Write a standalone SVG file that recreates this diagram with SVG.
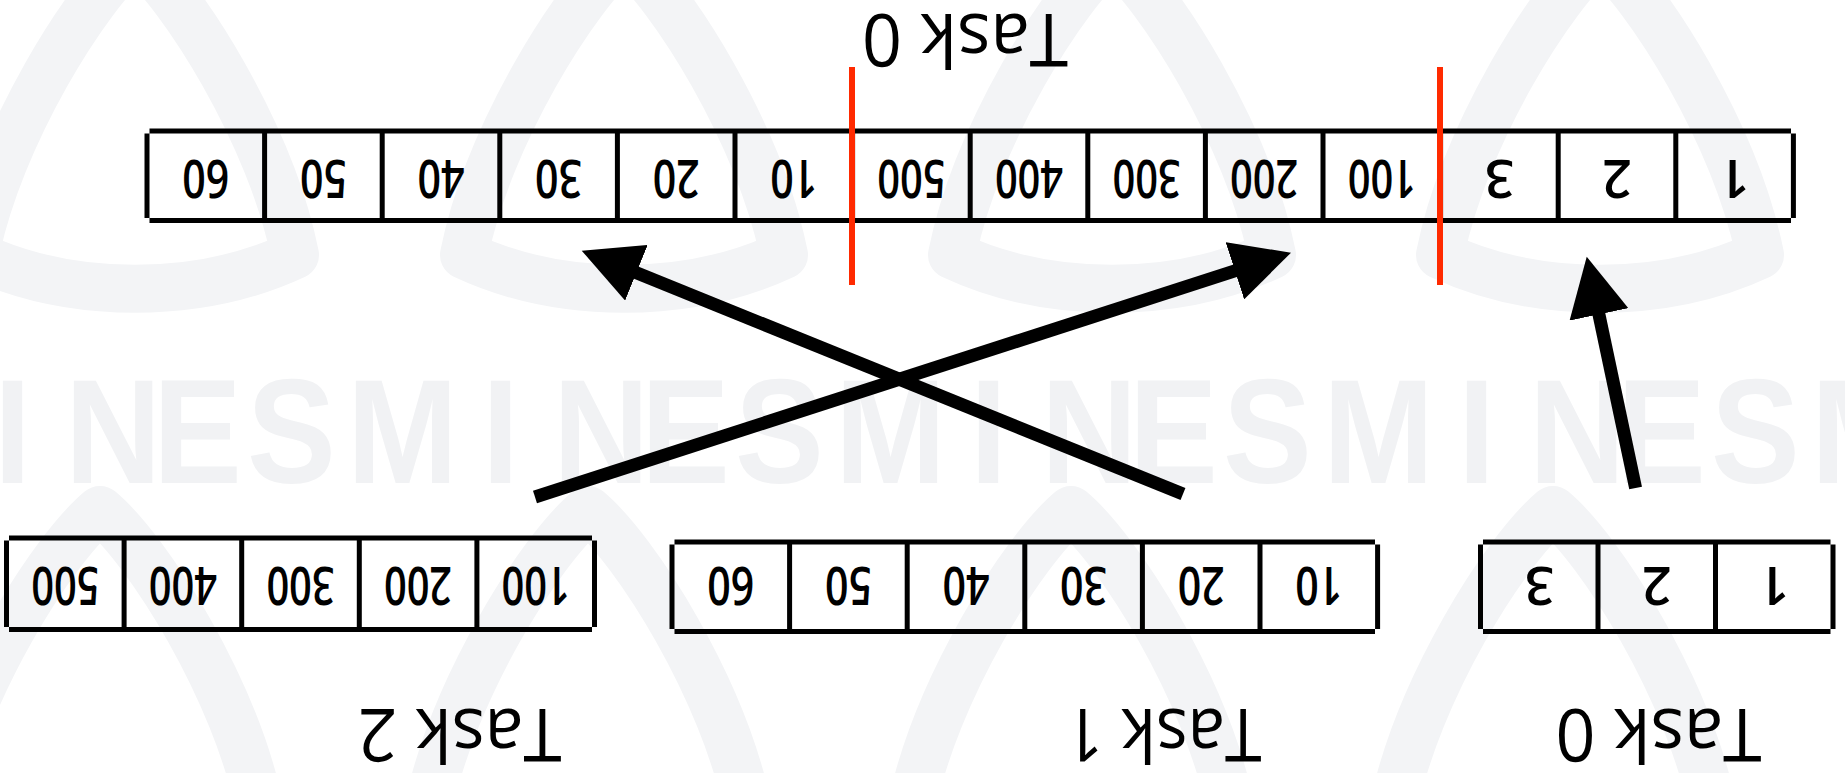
<svg xmlns="http://www.w3.org/2000/svg" width="1845" height="773" viewBox="0 0 1845 773">
  <style>
    .grid { stroke: #000; stroke-width: 5; fill: none; }
    .num { font-family: "Open Sans", "Liberation Sans", sans-serif; font-size: 52px; font-weight: 600; fill: #000; text-anchor: middle; }
    .label { font-family: "Open Sans", "Liberation Sans", sans-serif; font-size: 74px; fill: #000; text-anchor: middle; }
    .split { stroke: #ff2a00; stroke-width: 6; }
    .arrow { stroke: #000; stroke-width: 13; fill: none; marker-end: url(#head); }
    .mark { font-family: "Liberation Sans", sans-serif; font-weight: bold; font-size: 148px; fill: #f1f2f4; }
    .ring { fill: none; stroke: #f3f4f6; stroke-width: 48; stroke-linejoin: round; }
  </style>
  <defs>
    <marker id="head" markerUnits="userSpaceOnUse" markerWidth="60" markerHeight="60" viewBox="0 0 60 60" refX="4" refY="30" orient="auto">
      <path d="M0,0 L59,30 L0,60 z" fill="#000"/>
    </marker>
    <!-- rounded triangle of the backdrop, apex at the origin -->
    <path id="logo" class="ring" d="M0,0 C48,40 136,180 160,300 C64,345 -64,345 -160,300 C-136,180 -48,40 0,0 Z"/>
  </defs>

  <rect width="1845" height="773" fill="#fff"/>

  <!-- backdrop: repeated logo rings and word band -->
  <g id="backdrop">
    <use href="#logo" x="135" y="-45"/>
    <use href="#logo" x="624" y="-45"/>
    <use href="#logo" x="1112" y="-45"/>
    <use href="#logo" x="1600" y="-45"/>
    <use href="#logo" x="100" y="510"/>
    <use href="#logo" x="588" y="510"/>
    <use href="#logo" x="1071" y="510"/>
    <use href="#logo" x="1553" y="510"/>
    <text class="mark" transform="scale(0.9 1)" y="483"
      x="-6.7 72.2 170 274.4 385.6 535.6 614.4 712.2 816.7 927.8 1077.8 1156.7 1254.4 1358.9 1470 1620 1698.9 1796.7 1901.1 2012.2">INESMINESMINESMINESM</text>
  </g>

  <!-- whole drawing is laid out upright, then turned half a revolution -->
  <g id="diagram" transform="rotate(180 922.5 386.5)">

    <!-- task 0 : 1 2 3 -->
    <g id="task0">
      <path class="grid" d="M14.5,141.5 H362 M14.5,231 H362 M12,144 V228.5 M129.5,144 V228.5 M247,144 V228.5 M364.5,144 V228.5"/>
      <text class="num" x="70.75" y="206">1</text>
      <text class="num" x="188.25" y="206">2</text>
      <text class="num" x="305.75" y="206">3</text>
      <text class="label" x="186.5" y="64" textLength="206" lengthAdjust="spacingAndGlyphs">Task 0</text>
    </g>

    <!-- task 1 : 10 .. 60 -->
    <g id="task1">
      <path class="grid" d="M470,141.5 H1170.5 M470,231 H1170.5 M467.4,144 V228.5 M585,144 V228.5 M702.6,144 V228.5 M820.2,144 V228.5 M937.8,144 V228.5 M1055.4,144 V228.5 M1173,144 V228.5"/>
      <text class="num" x="526.2" y="206" textLength="47" lengthAdjust="spacingAndGlyphs">10</text>
      <text class="num" x="643.8" y="206" textLength="47" lengthAdjust="spacingAndGlyphs">20</text>
      <text class="num" x="761.4" y="206" textLength="47" lengthAdjust="spacingAndGlyphs">30</text>
      <text class="num" x="879" y="206" textLength="47" lengthAdjust="spacingAndGlyphs">40</text>
      <text class="num" x="996.6" y="206" textLength="47" lengthAdjust="spacingAndGlyphs">50</text>
      <text class="num" x="1114.2" y="206" textLength="47" lengthAdjust="spacingAndGlyphs">60</text>
      <text class="label" x="681.5" y="64" textLength="196" lengthAdjust="spacingAndGlyphs">Task 1</text>
    </g>

    <!-- task 2 : 100 .. 500 -->
    <g id="task2">
      <path class="grid" d="M1253,143.5 H1836 M1253,235 H1836 M1250.5,146 V232.5 M1368.1,146 V232.5 M1485.7,146 V232.5 M1603.3,146 V232.5 M1720.9,146 V232.5 M1838.5,146 V232.5"/>
      <text class="num" x="1309.3" y="206" textLength="68" lengthAdjust="spacingAndGlyphs">100</text>
      <text class="num" x="1426.9" y="206" textLength="68" lengthAdjust="spacingAndGlyphs">200</text>
      <text class="num" x="1544.5" y="206" textLength="68" lengthAdjust="spacingAndGlyphs">300</text>
      <text class="num" x="1662.1" y="206" textLength="68" lengthAdjust="spacingAndGlyphs">400</text>
      <text class="num" x="1779.7" y="206" textLength="68" lengthAdjust="spacingAndGlyphs">500</text>
      <text class="label" x="1385.5" y="64" textLength="204" lengthAdjust="spacingAndGlyphs">Task 2</text>
    </g>

    <!-- gathered buffer on task 0 -->
    <g id="gathered">
      <path class="grid" d="M54,552.5 H1695.5 M54,642 H1695.5
        M51.6,555 V639.5 M169.2,555 V639.5 M286.8,555 V639.5 M404.4,555 V639.5 M522,555 V639.5
        M639.6,555 V639.5 M757.2,555 V639.5 M874.8,555 V639.5 M992.4,555 V639.5 M1110,555 V639.5
        M1227.6,555 V639.5 M1345.2,555 V639.5 M1462.8,555 V639.5 M1580.4,555 V639.5 M1698,555 V639.5"/>
      <text class="num" x="110.4" y="613">1</text>
      <text class="num" x="228" y="613">2</text>
      <text class="num" x="345.6" y="613">3</text>
      <text class="num" x="463.2" y="613" textLength="68" lengthAdjust="spacingAndGlyphs">100</text>
      <text class="num" x="580.8" y="613" textLength="68" lengthAdjust="spacingAndGlyphs">200</text>
      <text class="num" x="698.4" y="613" textLength="68" lengthAdjust="spacingAndGlyphs">300</text>
      <text class="num" x="816" y="613" textLength="68" lengthAdjust="spacingAndGlyphs">400</text>
      <text class="num" x="933.6" y="613" textLength="68" lengthAdjust="spacingAndGlyphs">500</text>
      <text class="num" x="1051.2" y="613" textLength="47" lengthAdjust="spacingAndGlyphs">10</text>
      <text class="num" x="1168.8" y="613" textLength="47" lengthAdjust="spacingAndGlyphs">20</text>
      <text class="num" x="1286.4" y="613" textLength="47" lengthAdjust="spacingAndGlyphs">30</text>
      <text class="num" x="1404" y="613" textLength="47" lengthAdjust="spacingAndGlyphs">40</text>
      <text class="num" x="1521.6" y="613" textLength="47" lengthAdjust="spacingAndGlyphs">50</text>
      <text class="num" x="1639.2" y="613" textLength="47" lengthAdjust="spacingAndGlyphs">60</text>
      <text class="label" x="880" y="759" textLength="206" lengthAdjust="spacingAndGlyphs">Task 0</text>
    </g>

    <!-- block boundaries in the gathered buffer -->
    <g id="separators">
      <line class="split" x1="405" y1="488" x2="405" y2="706"/>
      <line class="split" x1="993" y1="488" x2="993" y2="706"/>
    </g>

    <!-- data movement -->
    <g id="connectors">
      <line class="arrow" x1="209.4" y1="285" x2="246.9" y2="462.5"/>
      <line class="arrow" x1="662" y1="279" x2="1212.3" y2="501.7"/>
      <line class="arrow" x1="1310" y1="276" x2="606.3" y2="503.4"/>
    </g>
  </g>
</svg>
